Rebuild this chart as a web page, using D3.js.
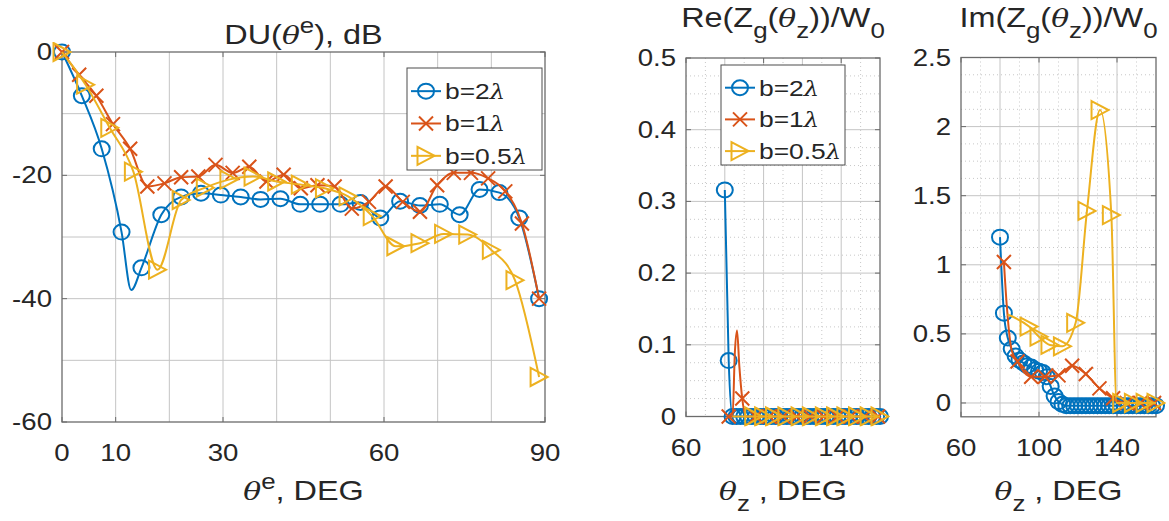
<!DOCTYPE html>
<meta charset="utf-8">
<style>
    body { margin: 0; background: #fff; }
    svg { display: block; font-family: "Liberation Sans", Arial, sans-serif; }
    .grid line { stroke: #c4c4c4; stroke-width: 1; }
    .minor line { stroke: #c8c8c8; stroke-width: 1; stroke-dasharray: 1, 3; }
    .frame { fill: none; stroke: #6b6b6b; stroke-width: 1.3; }
    .ticks line { stroke: #6b6b6b; stroke-width: 1; }
    text { fill: #262626; }
    .legend rect { fill: #fff; stroke: #4d4d4d; stroke-width: 1; }
</style>
<svg width="1169" height="521"></svg>
<script src="https://cdnjs.cloudflare.com/ajax/libs/d3/7.8.5/d3.min.js"></script>
<script>
    // ---- DU(theta^e) panel, dB ----
    var duThetaB2 = [0, 3.7, 7.4, 11.1, 14.8, 18.5, 22.2, 25.9, 29.6, 33.3, 37.0, 40.7, 44.4, 48.1, 51.9, 55.6, 59.3, 63.0, 66.7, 70.4, 74.1, 77.8, 81.5, 85.2, 88.9];
    var duB2 = [0, -7.1, -15.7, -29.2, -35.0, -26.4, -23.5, -22.9, -23.2, -23.5, -23.9, -23.8, -24.7, -24.7, -24.7, -24.4, -26.9, -24.2, -24.9, -24.7, -26.4, -22.3, -22.8, -26.9, -40];
    var duB2Extra = [[12.9, -38.6]];

    var duThetaB1 = [0, 3.2, 6.4, 9.5, 12.7, 15.9, 19.1, 22.2, 25.4, 28.6, 31.8, 34.9, 38.1, 41.3, 44.5, 47.6, 50.8, 54.0, 57.2, 60.3, 63.5, 66.7, 69.9, 73.0, 76.2, 79.4, 82.6, 85.7, 88.9];
    var duB1 = [0, -3.7, -7.1, -11.7, -15.7, -21.8, -21.3, -20.3, -20.2, -18.3, -19.6, -18.6, -21.0, -19.9, -22.1, -21.6, -21.8, -25.4, -24.3, -21.8, -24.3, -25.9, -21.6, -19.6, -19.6, -20.5, -22.6, -27.8, -40];

    var duThetaB05 = [0, 4.4, 8.9, 13.3, 17.8, 22.2, 26.7, 31.1, 35.6, 40.0, 44.4, 48.9, 53.3, 57.8, 62.2, 66.7, 71.1, 75.6, 80.0, 84.4, 88.9];
    var duB05 = [0, -5.3, -12.3, -19.4, -35.3, -24.0, -22.0, -20.7, -20.2, -21.0, -21.5, -22.1, -23.4, -26.6, -31.5, -31.0, -29.5, -29.6, -32.1, -37.0, -52.7];

    // ---- Z_g(theta_z)/W0 panels ----
    var zThetaB2 = [80, 82, 84, 86, 88, 90, 92, 94, 96, 98, 100, 102, 104, 106, 108, 110, 112, 114, 116, 118, 120, 122, 124, 126, 128, 130, 132, 134, 136, 138, 140, 142, 144, 146, 148, 150, 152, 154, 156, 158, 160];
    var reB2 = [0.316, 0.078, 0, 0, 0, 0, 0, 0, 0, 0, 0, 0, 0, 0, 0, 0, 0, 0, 0, 0, 0, 0, 0, 0, 0, 0, 0, 0, 0, 0, 0, 0, 0, 0, 0, 0, 0, 0, 0, 0, 0];
    var imB2 = [1.2, 0.65, 0.47, 0.39, 0.34, 0.31, 0.29, 0.27, 0.26, 0.24, 0.23, 0.22, 0.19, 0.12, 0.05, 0.01, -0.01, -0.02, -0.02, -0.02, -0.02, -0.02, -0.02, -0.02, -0.02, -0.02, -0.02, -0.02, -0.02, -0.02, -0.02, -0.02, -0.02, -0.02, -0.02, -0.02, -0.02, -0.02, -0.02, -0.02, -0.02];

    var zThetaB1 = [82, 89, 96, 103, 110, 117, 124, 131, 138, 145, 152, 159];
    var reB1 = [0, 0.025, 0, 0, 0, 0, 0, 0, 0, 0, 0, 0];
    var reB1Extra = [[84, 0], [85.2, 0.09], [86.3, 0.12], [87.5, 0.07], [91, 0]];
    var imB1 = [1.02, 0.30, 0.19, 0.19, 0.20, 0.27, 0.21, 0.106, 0.034, 0, 0, 0];
    var imB1Extra = [[83.5, 0.7], [86, 0.38], [92.5, 0.22]];

    var zThetaB05 = [94.9, 100, 105.6, 112, 118.8, 124.6, 131.3, 137.1, 142.4, 148.4, 154.4, 160];
    var reB05 = [0, 0, 0, 0, 0, 0, 0, 0, 0, 0, 0, 0];
    var reB05Extra = [[83.9, 0]];
    var imB05 = [0.553, 0.48, 0.42, 0.41, 0.58, 1.39, 2.12, 1.36, 0, 0, 0, 0];
    var imB05Extra = [[83.9, 0.64], [139.8, 0]];

    // ticks
    var duXTicks = [0, 10, 30, 60, 90];
    var duXGrid = [10, 20, 30, 40, 50, 60, 70, 80];
    var duYTicks = [-60, -40, -20, 0];
    var duYGrid = [-50, -40, -30, -20, -10];
    var zXTicks = [60, 100, 140];
    var zXGrid = [80, 100, 120, 140];
    var zXMinor = [70, 90, 110, 130, 150];
    var reYTicks = [0, 0.1, 0.2, 0.3, 0.4, 0.5];
    var imYTicks = [0, 0.5, 1, 1.5, 2, 2.5];

    var legendNames = ["2", "1", "0.5"];
    var colors = ["#0072BD", "#D95319", "#EDB120"];
    var markers = ["o", "x", ">"];

    var SX = 1.2; // horizontal stretch of the source picture
    var svg = d3.select("svg");

    function rich(g, x, y, anchor, size, parts) {
        var t = g.append("text")
            .attr("transform", "translate(" + x + "," + y + ") scale(" + SX + ",1)")
            .attr("text-anchor", anchor)
            .style("font-size", size + "px");
        var cur = 0;
        parts.forEach(function(p) {
            var off = p[1] === "sub" ? size * 0.42 : p[1] === "sup" ? -size * 0.42 : 0;
            var ts = t.append("tspan").text(p[0]).attr("dy", off - cur);
            cur = off;
            if (p[1] === "i") ts.style("font-style", "italic").style("font-family", "'DejaVu Serif', 'Liberation Serif', serif").style("font-size", (size * 0.92) + "px");
            if (p[1] === "sub" || p[1] === "sup") ts.style("font-size", (size * 0.8) + "px");
        });
        return t;
    }

    function drawMarker(g, type, x, y, color) {
        if (type === "o") {
            g.append("ellipse").attr("cx", x).attr("cy", y).attr("rx", 8).attr("ry", 7.5)
                .attr("fill", "none").attr("stroke", color).attr("stroke-width", 2);
        } else if (type === "x") {
            var s = 7;
            g.append("path").attr("d", "M" + (x - s) + "," + (y - s) + "L" + (x + s) + "," + (y + s) + "M" + (x - s) + "," + (y + s) + "L" + (x + s) + "," + (y - s))
                .attr("stroke", color).attr("stroke-width", 2).attr("fill", "none");
        } else {
            var w = 8.5, h = 9;
            g.append("path").attr("d", "M" + (x - w) + "," + (y - h) + "L" + (x + w) + "," + y + "L" + (x - w) + "," + (y + h) + "Z")
                .attr("stroke", color).attr("stroke-width", 2).attr("fill", "none").attr("stroke-linejoin", "miter");
        }
    }

    function drawSeries(g, sx, sy, th, val, extra, color, type) {
        var pts = th.map(function(t, i) { return [t, val[i]]; });
        var linePts = pts.concat(extra || []).sort(function(a, b) { return a[0] - b[0]; });
        g.append("path")
            .datum(linePts)
            .attr("fill", "none")
            .attr("stroke", color)
            .attr("stroke-width", 2)
            .attr("d", d3.line()
                .x(function(d) { return sx(d[0]); })
                .y(function(d) { return sy(d[1]); })
                .curve(d3.curveMonotoneX));
        pts.forEach(function(d) { drawMarker(g, type, sx(d[0]), sy(d[1]), color); });
    }

    function panel(p) {
        var sx = d3.scaleLinear().domain(p.xd).range([p.x0, p.x1]);
        var sy = d3.scaleLinear().domain(p.yd).range([p.y1, p.y0]);
        var g = svg.append("g");

        if (p.xMinor) {
            var mg = g.append("g").attr("class", "minor");
            mg.selectAll("line.mx").data(p.xMinor).enter().append("line")
                .attr("x1", sx).attr("x2", sx).attr("y1", p.y0).attr("y2", p.y1);
            mg.selectAll("line.my").data(p.yMinor).enter().append("line")
                .attr("y1", sy).attr("y2", sy).attr("x1", p.x0).attr("x2", p.x1);
        }
        var gg = g.append("g").attr("class", "grid");
        gg.selectAll("line.gx").data(p.xGrid).enter().append("line")
            .attr("x1", sx).attr("x2", sx).attr("y1", p.y0).attr("y2", p.y1);
        gg.selectAll("line.gy").data(p.yGrid).enter().append("line")
            .attr("y1", sy).attr("y2", sy).attr("x1", p.x0).attr("x2", p.x1);

        g.append("rect").attr("class", "frame")
            .attr("x", p.x0).attr("y", p.y0).attr("width", p.x1 - p.x0).attr("height", p.y1 - p.y0);

        var tk = g.append("g").attr("class", "ticks");
        p.xTicks.forEach(function(v) {
            tk.append("line").attr("x1", sx(v)).attr("x2", sx(v)).attr("y1", p.y1).attr("y2", p.y1 - 5);
            tk.append("line").attr("x1", sx(v)).attr("x2", sx(v)).attr("y1", p.y0).attr("y2", p.y0 + 5);
            rich(g, sx(v), p.y1 + 39, "middle", 23, [[String(v)]]);
        });
        p.yTicks.forEach(function(v) {
            tk.append("line").attr("y1", sy(v)).attr("y2", sy(v)).attr("x1", p.x0).attr("x2", p.x0 + 5);
            tk.append("line").attr("y1", sy(v)).attr("y2", sy(v)).attr("x1", p.x1).attr("x2", p.x1 - 5);
            rich(g, p.x0 - 10, sy(v) + 8, "end", 23, [[String(v)]]);
        });

        rich(g, (p.x0 + p.x1) / 2, p.titleY, "middle", 27, p.title);
        rich(g, (p.x0 + p.x1) / 2, 500, "middle", 27, p.xlabel);

        var clipId = "clip" + p.x0;
        svg.append("clipPath").attr("id", clipId).append("rect")
            .attr("x", p.x0 - 10).attr("y", p.y0 - 10).attr("width", p.x1 - p.x0 + 20).attr("height", p.y1 - p.y0 + 20);
        var dg = g.append("g").attr("clip-path", "url(#" + clipId + ")");
        p.series.forEach(function(s, i) {
            drawSeries(dg, sx, sy, s[0], s[1], s[2], colors[i], markers[i]);
        });

        if (p.legend) {
            var L = p.legend;
            var lg = g.append("g").attr("class", "legend");
            lg.append("rect").attr("x", L.x).attr("y", L.y).attr("width", L.w).attr("height", L.h);
            legendNames.forEach(function(n, i) {
                var yy = L.y + L.h * 0.227 + i * L.h * 0.317;
                lg.append("line").attr("x1", L.x + 4).attr("x2", L.x + 34).attr("y1", yy).attr("y2", yy)
                    .attr("stroke", colors[i]).attr("stroke-width", 2);
                drawMarker(lg, markers[i], L.x + 19, yy, colors[i]);
                rich(lg, L.x + 38, yy + 8, "start", 22, [["b=" + n], ["\u03bb", "i"]]);
            });
        }
    }

    panel({
        x0: 62, x1: 545, y0: 52, y1: 422, xd: [0, 90], yd: [-60, 0],
        xTicks: duXTicks, yTicks: duYTicks, xGrid: duXGrid, yGrid: duYGrid,
        titleY: 44,
        title: [["DU("], ["\u03b8", "i"], ["e", "sup"], ["), dB"]],
        xlabel: [["\u03b8", "i"], ["e", "sup"], [", DEG"]],
        series: [[duThetaB2, duB2, duB2Extra], [duThetaB1, duB1, null], [duThetaB05, duB05, null]],
        legend: { x: 407, y: 68, w: 135, h: 102 }
    });

    panel({
        x0: 686, x1: 880, y0: 58, y1: 416.5, xd: [60, 160], yd: [0, 0.5],
        xTicks: zXTicks, yTicks: reYTicks, xGrid: zXGrid, yGrid: reYTicks.slice(1, 5),
        xMinor: zXMinor, yMinor: d3.range(1, 20).filter(function(k) { return k % 4; }).map(function(k) { return k * 0.025; }),
        titleY: 27,
        title: [["Re(Z"], ["g", "sub"], ["("], ["\u03b8", "i"], ["z", "sub"], ["))/W"], ["0", "sub"]],
        xlabel: [["\u03b8", "i"], ["z", "sub"], [" , DEG"]],
        series: [[zThetaB2, reB2, null], [zThetaB1, reB1, reB1Extra], [zThetaB05, reB05, reB05Extra]],
        legend: { x: 721, y: 65, w: 124, h: 100 }
    });

    panel({
        x0: 961, x1: 1156, y0: 57.5, y1: 416.8, xd: [60, 160], yd: [-0.1, 2.5],
        xTicks: zXTicks, yTicks: imYTicks, xGrid: zXGrid, yGrid: imYTicks.slice(0, 5),
        xMinor: zXMinor, yMinor: d3.range(1, 20).filter(function(k) { return k % 4; }).map(function(k) { return k * 0.125; }),
        titleY: 27,
        title: [["Im(Z"], ["g", "sub"], ["("], ["\u03b8", "i"], ["z", "sub"], ["))/W"], ["0", "sub"]],
        xlabel: [["\u03b8", "i"], ["z", "sub"], [" , DEG"]],
        series: [[zThetaB2, imB2, null], [zThetaB1, imB1, imB1Extra], [zThetaB05, imB05, imB05Extra]]
    });
</script>
